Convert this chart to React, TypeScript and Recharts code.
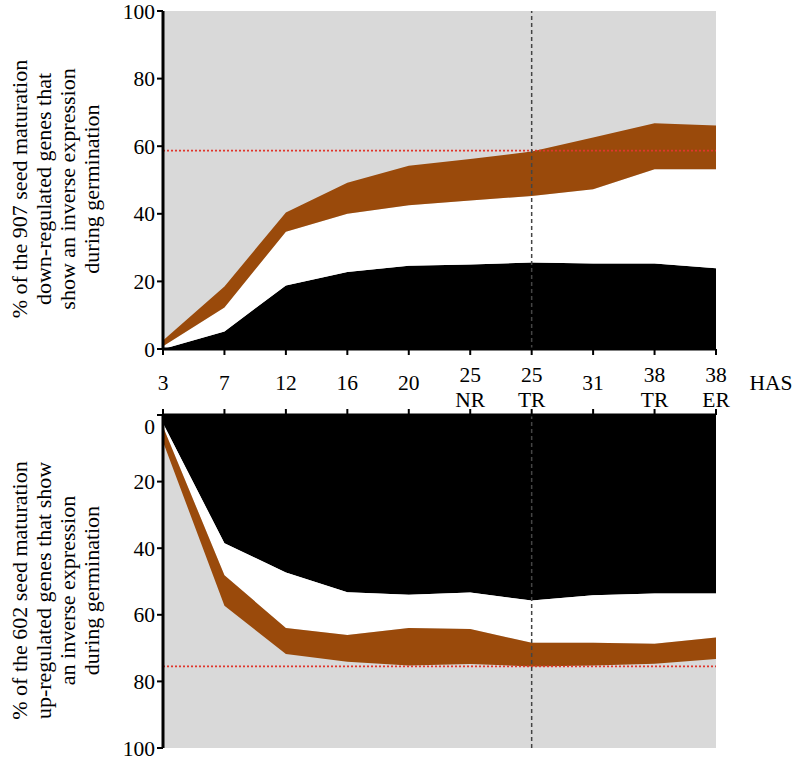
import { AreaChart, Area, XAxis, YAxis, CartesianGrid, ReferenceLine } from "recharts"

const hours = ["3", "7", "12", "16", "20", "25\nNR", "25\nTR", "31", "38\nTR", "38\nER"]

// top panel: down-regulated genes (907)
const downBlack = [0, 5.2, 18.8, 22.8, 24.6, 25.0, 25.6, 25.3, 25.3, 23.9]
const downWhite = [0.8, 12.3, 34.7, 40.0, 42.5, 43.9, 45.3, 47.3, 53.2, 53.2]
const downBrown = [2.5, 18.5, 40.4, 49.2, 54.2, 56.2, 58.4, 62.6, 66.8, 66.1]
const downThreshold = 58.7

// bottom panel: up-regulated genes (602), axis reversed
const upBlack = [2.5, 38.5, 47.3, 53.2, 54.0, 53.3, 55.7, 54.1, 53.6, 53.6]
const upWhite = [3.5, 48.1, 64.0, 66.1, 64.0, 64.3, 68.4, 68.4, 68.7, 66.8]
const upBrown = [8.0, 57.3, 71.8, 74.1, 75.2, 74.8, 75.5, 75.2, 74.7, 73.3]
const upThreshold = 75.5

const yTicks = [0, 20, 40, 60, 80, 100]
const splitHour = "25\nTR"

const downLabel = ["% of the 907 seed maturation", "down-regulated genes that", "show an inverse expression", "during germination"]
const upLabel = ["% of the 602 seed maturation", "up-regulated genes that show", "an inverse expression", "during germination"]

const FONT = '"Liberation Serif", "Times New Roman", serif'
const TICK_SIZE = 21.5
const BROWN = "#9a4a0b"
const GRAY = "#d9d9d9"

const toRows = (black: number[], white: number[], brown: number[]) =>
  hours.map((h, i) => ({
    hour: h,
    black: [0, black[i]],
    white: [black[i], white[i]],
    brown: [white[i], brown[i]],
  }))

const downData = toRows(downBlack, downWhite, downBrown)
const upData = toRows(upBlack, upWhite, upBrown)

function HourTick(props: any) {
  const { x, y, payload } = props
  const lines = String(payload.value).split("\n")
  if (lines.length === 1) {
    return (
      <text x={x} y={y + 33} textAnchor="middle" fontFamily={FONT} fontSize={TICK_SIZE} fill="#000">
        {lines[0]}
      </text>
    )
  }
  return (
    <text textAnchor="middle" fontFamily={FONT} fontSize={TICK_SIZE} fill="#000">
      <tspan x={x} y={y + 25}>{lines[0]}</tspan>
      <tspan x={x} y={y + 50}>{lines[1]}</tspan>
    </text>
  )
}

const NoTick = () => <g />

function PctTick(props: any) {
  const { x, y, payload, zeroShift = 0 } = props
  const dy = payload.value === 0 ? zeroShift : 0
  return (
    <text x={x} y={y + dy} dy="0.35em" textAnchor="end" fontFamily={FONT} fontSize={TICK_SIZE} fill="#000">
      {payload.value}
    </text>
  )
}

function SideLabel(props: any) {
  const { viewBox, lines } = props
  const cy = viewBox.y + viewBox.height / 2 + 9
  return (
    <g>
      {lines.map((t: string, i: number) => (
        <text
          key={i}
          transform={`translate(${viewBox.x - 76 + i * 24}, ${cy}) rotate(-90)`}
          textAnchor="middle"
          fontFamily={FONT}
          fontSize={22}
          fill="#000"
        >
          {t}
        </text>
      ))}
    </g>
  )
}

function HasLabel(props: any) {
  const { viewBox } = props
  return (
    <text x={viewBox.x + viewBox.width + 55} y={viewBox.y + 41} textAnchor="middle" fontFamily={FONT} fontSize={TICK_SIZE} fill="#000">
      HAS
    </text>
  )
}

export default function App() {
  return (
    <div style={{ position: "absolute", left: 0, top: 0, width: 796, height: 760, background: "#fff" }}>
      <div style={{ position: "absolute", left: 0, top: 0 }}>
        <AreaChart width={796} height={440} data={downData} margin={{ top: 11, right: 80, bottom: 30, left: 103 }}>
          <CartesianGrid fill={GRAY} stroke="none" horizontal={false} vertical={false} />
          <Area dataKey="black" type="linear" stroke="none" fill="#000" fillOpacity={1} isAnimationActive={false} />
          <Area dataKey="white" type="linear" stroke="none" fill="#fff" fillOpacity={1} isAnimationActive={false} />
          <Area dataKey="brown" type="linear" stroke="none" fill={BROWN} fillOpacity={1} isAnimationActive={false} />
          <ReferenceLine y={downThreshold} stroke="#e0362c" strokeWidth={1.6} strokeDasharray="2 2" />
          <ReferenceLine x={splitHour} stroke="#444" strokeWidth={1.5} strokeDasharray="4 3" />
          <XAxis
            dataKey="hour"
            height={61}
            interval={0}
            axisLine={{ stroke: "#000", strokeWidth: 3 }}
            tickLine={{ stroke: "#000", strokeWidth: 2 }}
            tickSize={6}
            tick={<HourTick />}
            label={<HasLabel />}
          />
          <YAxis
            width={60}
            domain={[0, 100]}
            ticks={yTicks}
            interval={0}
            axisLine={{ stroke: "#000", strokeWidth: 3 }}
            tickLine={{ stroke: "#000", strokeWidth: 2 }}
            tickSize={6}
            tick={<PctTick />}
            label={<SideLabel lines={downLabel} />}
          />
        </AreaChart>
      </div>
      <div style={{ position: "absolute", left: 0, top: 360 }}>
        <AreaChart width={796} height={400} data={upData} margin={{ top: 35, right: 80, bottom: 12, left: 103 }}>
          <CartesianGrid fill={GRAY} stroke="none" horizontal={false} vertical={false} />
          <Area dataKey="black" type="linear" stroke="none" fill="#000" fillOpacity={1} isAnimationActive={false} />
          <Area dataKey="white" type="linear" stroke="none" fill="#fff" fillOpacity={1} isAnimationActive={false} />
          <Area dataKey="brown" type="linear" stroke="none" fill={BROWN} fillOpacity={1} isAnimationActive={false} />
          <ReferenceLine y={upThreshold} stroke="#e0362c" strokeWidth={1.6} strokeDasharray="2 2" />
          <ReferenceLine x={splitHour} stroke="#444" strokeWidth={1.5} strokeDasharray="4 3" />
          <XAxis
            dataKey="hour"
            orientation="top"
            height={20}
            interval={0}
            axisLine={{ stroke: "#000", strokeWidth: 3 }}
            tickLine={{ stroke: "#000", strokeWidth: 2 }}
            tickSize={6}
            tick={<NoTick />}
          />
          <YAxis
            width={60}
            reversed
            domain={[0, 100]}
            ticks={yTicks}
            interval={0}
            axisLine={{ stroke: "#000", strokeWidth: 3 }}
            tickLine={{ stroke: "#000", strokeWidth: 2 }}
            tickSize={6}
            tick={<PctTick zeroShift={11} />}
            label={<SideLabel lines={upLabel} />}
          />
        </AreaChart>
      </div>
    </div>
  )
}
